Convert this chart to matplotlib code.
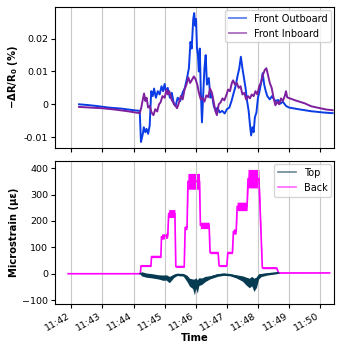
import datetime as dt

import numpy as np
import matplotlib
matplotlib.use('Agg')
import matplotlib.pyplot as plt
import matplotlib.dates as mdates

# time in minutes after 11:00
t_out = [42.25, 42.5, 42.8, 43.2, 43.6, 44.0, 44.2, 44.24, 44.3, 44.33, 44.38, 44.42,
         44.47, 44.52, 44.57, 44.62, 44.66, 44.72, 44.78, 44.84, 44.9, 44.95, 45.0,
         45.05, 45.1, 45.17, 45.23, 45.3, 45.35, 45.42, 45.5, 45.58, 45.65, 45.72,
         45.78, 45.83, 45.87, 45.92, 45.95, 45.98, 46.01, 46.04, 46.07, 46.1, 46.13,
         46.16, 46.2, 46.24, 46.28, 46.32, 46.36, 46.42, 46.47, 46.52, 46.58, 46.64,
         46.7, 46.77, 46.85, 46.93, 47.0, 47.08, 47.15, 47.22, 47.28, 47.34, 47.4,
         47.45, 47.5, 47.55, 47.6, 47.65, 47.7, 47.74, 47.78, 47.82, 47.86, 47.9,
         47.95, 48.0, 48.05, 48.1, 48.15, 48.2, 48.25, 48.3, 48.38, 48.45, 48.55,
         48.65, 48.72, 48.8, 48.9, 49.0, 49.3, 49.7, 50.1, 50.4]
front_out = [0.0, -0.0002, -0.0005, -0.001, -0.0013, -0.0018, -0.002, -0.0115, -0.009,
             -0.007, -0.0085, -0.0075, -0.009, -0.0065, 0.004, 0.0025, 0.0048, 0.002,
             0.004, 0.003, 0.0055, 0.004, 0.0062, 0.0035, 0.005, 0.002, 0.0035, 0.0,
             -0.0005, 0.002, 0.001, 0.0036, 0.005, 0.008, 0.011, 0.019, 0.017, 0.026,
             0.0278, 0.024, 0.026, 0.017, 0.015, 0.01, 0.017, 0.005, -0.0055, 0.003,
             0.011, 0.015, 0.006, 0.008, 0.002, 0.003, -0.0005, -0.002, -0.001, -0.0025,
             -0.002, -0.0028, -0.0015, -0.001, 0.001, 0.0035, 0.0055, 0.0085, 0.011,
             0.0145, 0.011, 0.008, 0.005, 0.001, -0.002, -0.006, -0.0095, -0.007,
             -0.0085, -0.004, -0.0025, 0.002, 0.004, 0.0065, 0.0095, 0.006, 0.004,
             0.0025, 0.0015, 0.0025, 0.001, 0.0013, 0.0002, 0.0008, -0.0005, -0.001,
             -0.0015, -0.0021, -0.0025, -0.0027]

t_in = [42.25, 42.6, 43.0, 43.4, 43.8, 44.2, 44.25, 44.3, 44.34, 44.38, 44.42, 44.47,
        44.52, 44.58, 44.64, 44.7, 44.76, 44.82, 44.87, 44.93, 45.0, 45.06, 45.1,
        45.15, 45.22, 45.28, 45.34, 45.4, 45.46, 45.52, 45.58, 45.64, 45.7, 45.76,
        45.82, 45.88, 45.94, 46.0, 46.05, 46.1, 46.16, 46.22, 46.28, 46.34, 46.4,
        46.46, 46.52, 46.58, 46.63, 46.68, 46.74, 46.8, 46.86, 46.92, 46.98, 47.04,
        47.1, 47.16, 47.2, 47.26, 47.32, 47.38, 47.44, 47.5, 47.56, 47.62, 47.68,
        47.74, 47.8, 47.86, 47.92, 47.98, 48.04, 48.1, 48.16, 48.22, 48.27, 48.32,
        48.38, 48.44, 48.5, 48.56, 48.62, 48.68, 48.74, 48.8, 48.86, 48.9, 48.94,
        49.2, 49.5, 49.71, 50.0, 50.2, 50.4]
front_in = [-0.0008, -0.001, -0.0012, -0.0016, -0.0021, -0.0027, -0.001, 0.0015, 0.0033,
            0.001, 0.002, -0.001, -0.0005, -0.0025, -0.0033, -0.0015, -0.0022, 0.0,
            0.0006, 0.0025, 0.002, 0.0045, 0.003, 0.004, 0.0015, 0.0005, -0.0003,
            -0.0012, 0.0005, 0.0025, 0.0015, 0.0045, 0.006, 0.0082, 0.0065, 0.0075,
            0.0085, 0.0075, 0.006, 0.0036, 0.0015, 0.002, 0.0008, 0.0027, 0.0022,
            0.0048, 0.0035, 0.0005, -0.002, -0.0033, 0.0, 0.0006, 0.0018, 0.0012,
            0.0027, 0.0045, 0.004, 0.0065, 0.0073, 0.006, 0.0065, 0.005, 0.0055, 0.003,
            0.0035, 0.0015, 0.0025, 0.0018, 0.003, 0.0025, 0.004, 0.003, 0.0055, 0.0067,
            0.009, 0.0105, 0.011, 0.009, 0.0065, 0.005, 0.002, -0.0003, 0.0008, 0.0,
            0.0018, 0.001, 0.0025, 0.004, 0.0021, 0.0012, 0.0003, -0.0006, -0.0012,
            -0.0016, -0.0018]

# strain: level and half-width of the noise band
t_back = [41.9, 44.22, 44.24, 44.56, 44.58, 44.88, 44.9, 45.1, 45.13, 45.33, 45.36,
          45.63, 45.66, 45.72, 45.75, 46.12, 46.15, 46.43, 46.46, 46.72, 46.75, 47.0,
          47.03, 47.18, 47.21, 47.3, 47.33, 47.65, 47.68, 48.03, 48.14, 48.6, 48.66,
          50.3]
back = [0, 0, 30, 30, 65, 65, 140, 145, 228, 228, 27, 27, 175, 175, 350, 350, 183,
        183, 80, 80, 30, 30, 80, 80, 160, 160, 255, 255, 360, 360, 22, 22, 3, 3]
back_band = [0, 0, 3, 3, 4, 4, 10, 10, 15, 15, 3, 3, 8, 8, 30, 30, 12, 12, 4, 4, 3, 3,
             4, 4, 10, 10, 16, 16, 35, 35, 3, 3, 1, 0]

t_top = [44.22, 44.25, 44.4, 44.6, 44.8, 44.95, 45.05, 45.15, 45.3, 45.4, 45.6, 45.72,
         45.8, 45.9, 45.96, 46.0, 46.05, 46.1, 46.2, 46.3, 46.45, 46.7, 46.9, 47.1,
         47.3, 47.5, 47.62, 47.72, 47.8, 47.87, 47.95, 48.02, 48.1, 48.3, 48.6, 48.66]
top = [0, 0, -5, -8, -12, -15, -14, -22, -8, -3, -4, -18, -32, -38, -50, -35, -48,
       -30, -28, -20, -14, -5, -2, -4, -10, -18, -28, -35, -28, -42, -32, -10, -5, -1,
       3, 3]
top_band = [0, 8, 8, 8, 8, 10, 10, 12, 6, 4, 5, 12, 15, 18, 30, 20, 25, 15, 12, 10, 6,
            5, 4, 4, 6, 10, 15, 18, 18, 25, 20, 10, 6, 4, 3, 0]

t0 = dt.datetime(2023, 1, 1, 11, 0)


def to_time(minutes):
    return [t0 + dt.timedelta(minutes=m) for m in minutes]


fig = plt.figure(figsize=(3.4, 3.44), dpi=100)
ax1 = fig.add_axes([0.162, 0.570, 0.821, 0.410])
ax2 = fig.add_axes([0.162, 0.116, 0.821, 0.416], sharex=ax1)

c_out, c_in = '#0a3ce6', '#7d1f9e'
c_top, c_back = '#073b52', '#ff00ff'

ax1.plot(to_time(t_out), front_out, color=c_out, lw=1.4, label='Front Outboard')
ax1.plot(to_time(t_in), front_in, color=c_in, lw=1.4, label='Front Inboard')

tb = to_time(t_back)
ax2.fill_between(tb, np.array(back) - back_band, np.array(back) + back_band,
                 color=c_back, lw=0)
ax2.plot(tb, back, color=c_back, lw=1.2, label='Back')
tt = to_time(t_top)
ax2.fill_between(tt, np.array(top) - top_band, np.array(top) + top_band,
                 color=c_top, lw=0, zorder=3)
ax2.plot(tt, top, color=c_top, lw=1.2, label='Top', zorder=3)

ax1.set_ylim(-0.0133, 0.0297)
ax1.set_yticks([-0.01, 0, 0.01, 0.02])
ax1.set_yticklabels(['-0.01', '0', '0.01', '0.02'])
ax2.set_ylim(-115, 427)
ax2.set_yticks([-100, 0, 100, 200, 300, 400])

ax2.set_xlim(t0 + dt.timedelta(minutes=41.48), t0 + dt.timedelta(minutes=50.45))
ax2.xaxis.set_major_locator(mdates.MinuteLocator())
ax2.xaxis.set_major_formatter(mdates.DateFormatter('%H:%M'))
plt.setp(ax1.get_xticklabels(), visible=False)
plt.setp(ax2.get_xticklabels(), rotation=30, ha='right')

for ax in (ax1, ax2):
    ax.grid(axis='x', color='#c8c8c8', lw=0.8)
    ax.tick_params(labelsize=6.8, length=3, pad=2)

ax1.set_ylabel(r'$\mathbf{-\Delta R/R_0}$ (%)', fontsize=7.2, fontweight='bold',
               labelpad=3)
ax2.set_ylabel('Microstrain (με)', fontsize=7.2, fontweight='bold', labelpad=2)
ax2.set_xlabel('Time', fontsize=7.2, fontweight='bold', labelpad=0)

leg1 = ax1.legend(loc='upper right', fontsize=7, handlelength=1.8,
                  borderaxespad=0.3)
handles, labels = ax2.get_legend_handles_labels()
leg2 = ax2.legend(handles[::-1], labels[::-1], loc='upper right', fontsize=7,
                  handlelength=1.8, borderaxespad=0.3)
for leg in (leg1, leg2):
    for ln in leg.get_lines():
        ln.set_alpha(0.6)

fig.savefig('out.png', dpi=100)
